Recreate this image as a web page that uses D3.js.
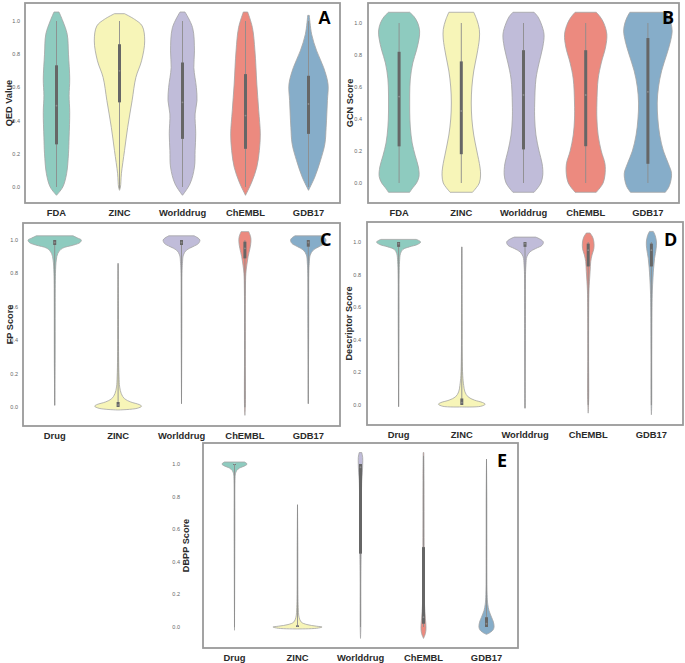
<!DOCTYPE html>
<html><head><meta charset="utf-8">
<script src="https://cdn.jsdelivr.net/npm/d3@7"></script>
<style>body{margin:0;background:#fff}svg{display:block}</style>
</head><body>
<svg id="c" width="685" height="663"></svg>
<script>
// ---------- DATA ----------
const catsAB = ["FDA","ZINC","Worlddrug","ChEMBL","GDB17"];
const catsCDE = ["Drug","ZINC","Worlddrug","ChEMBL","GDB17"];
const colors = ["#8ecbbf","#f7f5b8","#c0bcd9","#ec8a7f","#86adc9"];
const yTicks = [0,0.2,0.4,0.6,0.8,1.0];

// violin profiles: [value, half-width as fraction of category band]
const qedProfiles = [
  [[-0.05,0],[0.0,0.1],[0.08,0.16],[0.2,0.19],[0.3,0.2],[0.45,0.21],[0.55,0.2],[0.65,0.21],[0.8,0.19],[0.92,0.17],[1.0,0.1],[1.054,0.04]],
  [[-0.02,0],[0.0,0.015],[0.08,0.03],[0.22,0.08],[0.36,0.13],[0.52,0.2],[0.66,0.26],[0.76,0.35],[0.88,0.4],[0.97,0.36],[1.01,0.24],[1.044,0.08]],
  [[-0.05,0],[0.02,0.12],[0.12,0.19],[0.22,0.2],[0.32,0.21],[0.44,0.2],[0.52,0.23],[0.6,0.22],[0.72,0.18],[0.82,0.19],[0.96,0.16],[1.054,0.04]],
  [[-0.05,0],[0.03,0.1],[0.12,0.18],[0.22,0.22],[0.32,0.235],[0.46,0.21],[0.62,0.18],[0.82,0.15],[0.96,0.11],[1.054,0.035]],
  [[-0.02,0],[0.06,0.1],[0.16,0.19],[0.26,0.26],[0.36,0.28],[0.52,0.3],[0.62,0.31],[0.72,0.24],[0.82,0.13],[0.92,0.05],[1.034,0.012]]
];
const qedBox = [[0.0,0.257,0.49,0.733,1.0],[-0.01,0.51,0.7,0.86,1.0],[0.0,0.29,0.51,0.75,1.0],[0.0,0.23,0.43,0.68,1.0],[0.0,0.32,0.5,0.67,1.0]];

const gcnProfiles = [
  [[-0.058,0.17],[-0.03,0.22],[0.0,0.28],[0.04,0.32],[0.1,0.31],[0.17,0.26],[0.25,0.21],[0.35,0.18],[0.45,0.17],[0.55,0.17],[0.65,0.18],[0.75,0.22],[0.83,0.28],[0.9,0.32],[0.95,0.33],[1.0,0.3],[1.04,0.24],[1.067,0.17]],
  [[-0.058,0.18],[-0.03,0.24],[0.0,0.29],[0.05,0.31],[0.1,0.3],[0.2,0.25],[0.3,0.2],[0.4,0.17],[0.5,0.16],[0.6,0.17],[0.7,0.2],[0.8,0.25],[0.9,0.29],[0.96,0.29],[1.02,0.25],[1.067,0.2]],
  [[-0.058,0.17],[-0.03,0.23],[0.0,0.28],[0.05,0.31],[0.12,0.3],[0.2,0.25],[0.3,0.2],[0.4,0.18],[0.5,0.18],[0.65,0.2],[0.75,0.25],[0.85,0.31],[0.93,0.33],[1.0,0.28],[1.04,0.23],[1.067,0.17]],
  [[-0.058,0.17],[-0.03,0.23],[0.0,0.28],[0.05,0.31],[0.12,0.31],[0.2,0.25],[0.3,0.2],[0.4,0.18],[0.5,0.18],[0.65,0.2],[0.75,0.25],[0.85,0.32],[0.93,0.34],[1.0,0.29],[1.04,0.23],[1.067,0.17]],
  [[-0.058,0.28],[-0.03,0.33],[0.0,0.36],[0.06,0.38],[0.12,0.33],[0.2,0.25],[0.3,0.19],[0.4,0.16],[0.5,0.15],[0.6,0.17],[0.7,0.22],[0.8,0.3],[0.88,0.36],[0.95,0.39],[1.0,0.37],[1.04,0.33],[1.067,0.29]]
];
const gcnBox = [[0,0.229,0.54,0.82,1],[0,0.18,0.45,0.76,1],[0,0.21,0.55,0.83,1],[0,0.23,0.55,0.83,1],[0,0.12,0.57,0.906,1]];

const fpProfiles = [
  [[0.01,0],[0.3,0.006],[0.6,0.007],[0.8,0.012],[0.88,0.025],[0.92,0.05],[0.95,0.12],[0.97,0.3],[0.985,0.4],[1.0,0.42],[1.012,0.36],[1.025,0.29]],
  [[-0.018,0],[-0.008,0.3],[0.005,0.37],[0.015,0.33],[0.03,0.2],[0.05,0.1],[0.08,0.05],[0.12,0.025],[0.18,0.015],[0.3,0.008],[0.6,0.005],[0.86,0]],
  [[0.02,0],[0.5,0.006],[0.8,0.008],[0.86,0.015],[0.91,0.03],[0.94,0.08],[0.96,0.18],[0.98,0.27],[1.0,0.29],[1.012,0.26],[1.025,0.2]],
  [[-0.05,0],[0.0,0.006],[0.1,0.008],[0.3,0.006],[0.7,0.008],[0.8,0.015],[0.85,0.03],[0.9,0.05],[0.95,0.08],[0.99,0.095],[1.02,0.09],[1.05,0.06]],
  [[0.02,0],[0.5,0.006],[0.8,0.008],[0.86,0.015],[0.91,0.03],[0.94,0.08],[0.96,0.17],[0.98,0.26],[1.0,0.28],[1.012,0.26],[1.025,0.21]]
];
const fpBox = [[0.01,0.97,0.985,1.0,1.0],[0.0,0.0,0.012,0.03,0.86],[0.02,0.97,0.985,1.0,1.0],[0.0,0.89,0.95,0.99,1.0],[0.02,0.96,0.985,1.0,1.0]];

const descProfiles = [
  [[-0.01,0],[0.5,0.006],[0.8,0.008],[0.88,0.015],[0.93,0.03],[0.955,0.07],[0.97,0.17],[0.985,0.3],[1.0,0.35],[1.016,0.28]],
  [[-0.012,0],[-0.008,0.3],[0.005,0.37],[0.015,0.33],[0.03,0.2],[0.05,0.1],[0.08,0.05],[0.12,0.03],[0.18,0.015],[0.3,0.007],[0.6,0.005],[0.97,0]],
  [[-0.02,0],[0.5,0.006],[0.8,0.008],[0.86,0.015],[0.91,0.03],[0.94,0.08],[0.96,0.17],[0.98,0.27],[1.0,0.29],[1.015,0.25],[1.03,0.17]],
  [[-0.05,0],[0.05,0.008],[0.3,0.006],[0.6,0.008],[0.7,0.012],[0.76,0.02],[0.82,0.03],[0.88,0.04],[0.92,0.06],[0.96,0.09],[1.0,0.09],[1.03,0.07],[1.055,0.03]],
  [[-0.06,0],[0.0,0.005],[0.3,0.006],[0.6,0.01],[0.7,0.015],[0.78,0.025],[0.84,0.035],[0.9,0.05],[0.96,0.075],[1.0,0.08],[1.04,0.06],[1.065,0.03]]
];
const descBox = [[-0.01,0.97,0.99,1.0,1.0],[0.0,0.0,0.015,0.04,0.97],[-0.02,0.97,0.99,1.0,1.0],[0.0,0.85,0.95,0.99,1.0],[0.0,0.85,0.95,0.99,1.0]];

const dbppProfiles = [
  [[-0.02,0],[0.6,0.006],[0.9,0.008],[0.94,0.015],[0.96,0.035],[0.975,0.08],[0.99,0.17],[1.0,0.2],[1.012,0.16]],
  [[-0.012,0],[-0.008,0.3],[0.0,0.39],[0.005,0.3],[0.015,0.15],[0.03,0.06],[0.06,0.025],[0.12,0.012],[0.2,0.007],[0.5,0.005],[0.75,0]],
  [[-0.07,0],[0.0,0.005],[0.3,0.006],[0.45,0.01],[0.6,0.012],[0.8,0.015],[0.9,0.02],[0.95,0.03],[1.0,0.035],[1.04,0.035],[1.07,0.02]],
  [[-0.07,0],[-0.04,0.03],[-0.01,0.04],[0.03,0.035],[0.08,0.025],[0.15,0.015],[0.5,0.01],[0.9,0.008],[1.07,0.005]],
  [[-0.045,0],[-0.04,0.03],[-0.02,0.1],[0.0,0.12],[0.03,0.11],[0.06,0.08],[0.1,0.04],[0.14,0.02],[0.2,0.01],[0.5,0.006],[0.8,0.005],[1.03,0]]
];
const dbppBox = [[0.0,0.995,1.0,1.0,1.0],[0.0,0.0,0.004,0.01,0.75],[0.0,0.45,0.98,1.0,1.0],[0.0,0.02,0.06,0.49,1.05],[0.0,0.0,0.02,0.06,1.03]];

// ---------- LAYOUT ----------
const panels = [
  {letter:"A", cats:catsAB, prof:qedProfiles, box:qedBox, ylab:"QED Value", L:25, R:340, T:3, B:203, y0:187, y1:21, lx:318, ly:24, lfont:"Liberation Sans", tickX:20, labX:9, catY:216},
  {letter:"B", cats:catsAB, prof:gcnProfiles, box:gcnBox, ylab:"GCN Score", L:368, R:679, T:3, B:203, y0:183, y1:23, lx:662, ly:24, lfont:"Open Sans", tickX:362, labX:350, catY:216},
  {letter:"C", cats:catsCDE, prof:fpProfiles, box:fpBox, ylab:"FP Score", L:23, R:340, T:223, B:426, y0:407, y1:240, lx:320, ly:246, lfont:"Open Sans", tickX:18, labX:10, catY:439},
  {letter:"D", cats:catsCDE, prof:descProfiles, box:descBox, ylab:"Descriptor Score", L:367, R:683, T:222, B:425, y0:405, y1:242, lx:664, ly:246, lfont:"Open Sans", tickX:361, labX:349, catY:438},
  {letter:"E", cats:catsCDE, prof:dbppProfiles, box:dbppBox, ylab:"DBPP Score", L:203, R:518, T:443, B:648, y0:627, y1:464, lx:497, ly:467, lfont:"Open Sans", tickX:180, labX:186, catY:661}
];

const svg = d3.select("#c");

panels.forEach(p => {
  const g = svg.append("g");
  const x = d3.scaleBand().domain(p.cats).range([p.L, p.R]).padding(0);
  const y = d3.scaleLinear().domain([0,1]).range([p.y0, p.y1]);
  const bw = x.bandwidth();

  // violins
  p.cats.forEach((c,i) => {
    const cx = x(c) + bw/2;
    const area = d3.area()
      .y(d => y(d[0]))
      .x0(d => cx - d[1]*bw)
      .x1(d => cx + d[1]*bw)
      .curve(d3.curveCatmullRom.alpha(0.5));
    g.append("path").datum(p.prof[i]).attr("d", area)
      .attr("fill", colors[i]).attr("stroke", "#a3a3a3").attr("stroke-width", 0.8);
    const b = p.box[i];
    g.append("line").attr("x1",cx).attr("x2",cx).attr("y1",y(b[0])).attr("y2",y(b[4]))
      .attr("stroke","#8c8c8c").attr("stroke-width",0.9);
    g.append("line").attr("x1",cx).attr("x2",cx).attr("y1",y(b[1])).attr("y2",y(b[3]))
      .attr("stroke","#666").attr("stroke-width",3);
    g.append("circle").attr("cx",cx).attr("cy",y(b[2])).attr("r",0.9)
      .attr("fill","#fff").attr("opacity",0.25);
  });

  // frame
  g.append("rect").attr("x",p.L).attr("y",p.T).attr("width",p.R-p.L).attr("height",p.B-p.T)
    .attr("fill","none").attr("stroke","#9a9a9a").attr("stroke-width",1.8);

  // y ticks
  g.selectAll(".yt").data(yTicks).enter().append("text")
    .attr("x", p.tickX).attr("y", d => y(d)).attr("dy","0.35em")
    .attr("text-anchor","end").attr("font-family","Liberation Sans, Arial, sans-serif")
    .attr("font-size",5.5).attr("fill","#666").text(d => d.toFixed(1));

  // y label
  g.append("text").attr("transform",`translate(${p.labX},${(p.T+p.B)/2}) rotate(-90)`)
    .attr("text-anchor","middle").attr("dy","0.35em")
    .attr("font-family","Liberation Sans, Arial, sans-serif").attr("font-weight","bold")
    .attr("font-size",9.2).attr("fill","#2a2a2a").text(p.ylab);

  // category labels
  g.selectAll(".xl").data(p.cats).enter().append("text")
    .attr("x", d => x(d)+bw/2).attr("y", p.catY)
    .attr("text-anchor","middle").attr("font-family","Liberation Sans, Arial, sans-serif")
    .attr("font-weight","bold").attr("font-size",9.4).attr("fill","#2a2a2a").text(d => d);

  // panel letter
  g.append("text").attr("x",p.lx).attr("y",p.ly)
    .attr("font-family",p.lfont+", Liberation Sans, sans-serif").attr("font-weight","bold")
    .attr("font-size",18).attr("fill","#000").text(p.letter);
});
</script>
</body></html>
